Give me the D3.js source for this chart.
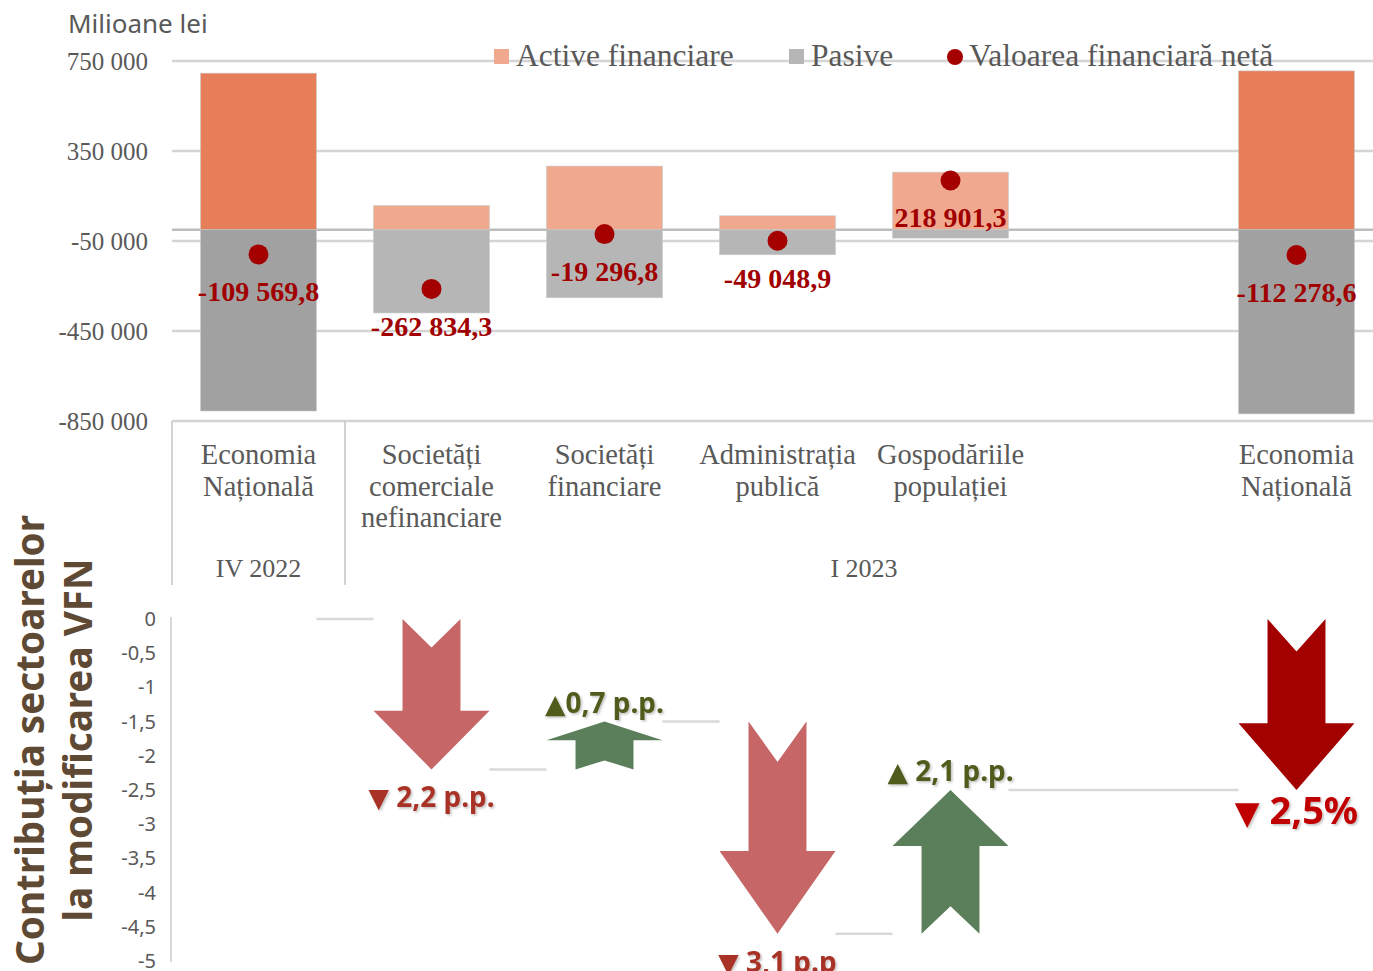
<!DOCTYPE html>
<html>
<head>
<meta charset="utf-8">
<script src="https://cdn.jsdelivr.net/npm/d3@7"></script>
<style>
  body { margin: 0; background: #fff; }
  svg { display: block; }
</style>
</head>
<body>
<div id="chart"></div>
<script>
// Category labels (one array per category, one string per line)
const categories = [
  ["Economia", "Națională"],
  ["Societăți", "comerciale", "nefinanciare"],
  ["Societăți", "financiare"],
  ["Administrația", "publică"],
  ["Gospodăriile", "populației"],
  [],
  ["Economia", "Națională"]
];
const periodLabels = ["IV 2022", "I 2023"];
const periodFirst = [0, 1];
const periodLast = [0, 6];

// Top chart values, milioane lei
const activeValues = [696000, 107000, 283000, 62000, 256000, null, 706000];
const pasiveValues = [-805570, -369834, -302297, -111049, -37099, null, -818279];
const netValues = [-109569.8, -262834.3, -19296.8, -49048.9, 218901.3, null, -112278.6];
const topTicks = [750000, 350000, -50000, -450000, -850000];
const totalCats = [0, 6]; // national economy bars are drawn darker

// Bottom chart: contributions to VFN change, p.p.
const contribValues = [0, -2.2, 0.7, -3.1, 2.1, null, -2.5];
const contribLabels = ["", "▼ 2,2 p.p.", "▲0,7 p.p.", "▼ 3,1 p.p", "▲ 2,1 p.p.", "", "▼ 2,5%"];
const bottomTicks = [0, -0.5, -1, -1.5, -2, -2.5, -3, -3.5, -4, -4.5, -5];
const totalIndex = 6;

const W = 1373, H = 971;
const serif = "'Liberation Serif', 'DejaVu Serif', serif";
const sans = "'Noto Sans', 'Open Sans', sans-serif";

const ro = d3.formatLocale({ decimal: ",", thousands: " ", grouping: [3], currency: ["", " lei"], minus: "-" });
const fmtTick = ro.format(",d");
const fmtNet = ro.format(",.1f");
const fmtSmall = ro.format(",.1~f");

const svg = d3.select("#chart").append("svg")
  .attr("width", W).attr("height", H);

const defs = svg.append("defs");
const shadow = defs.append("filter").attr("id", "shadow")
  .attr("x", "-10%").attr("y", "-20%").attr("width", "130%").attr("height", "150%");
shadow.append("feDropShadow").attr("dx", 1.5).attr("dy", 1.5).attr("stdDeviation", 1.2)
  .attr("flood-color", "#000").attr("flood-opacity", 0.25);

// shared x scale
const x = d3.scaleBand()
  .domain(d3.range(categories.length))
  .range([172, 1383])
  .paddingInner(0.33)
  .paddingOuter(0.165);

// ---------- top chart ----------
const y = d3.scaleLinear().domain([-850000, 750000]).range([421, 61]);

svg.append("text")
  .attr("x", 68).attr("y", 33)
  .attr("font-family", sans).attr("font-size", 26).attr("fill", "#595959")
  .text("Milioane lei");

// gridlines
svg.append("g").selectAll("line").data(topTicks).join("line")
  .attr("x1", 172).attr("x2", W)
  .attr("y1", d => y(d)).attr("y2", d => y(d))
  .attr("stroke", "#d4d4d4").attr("stroke-width", 2.5);

// zero line
svg.append("line")
  .attr("x1", 172).attr("x2", W)
  .attr("y1", y(0)).attr("y2", y(0))
  .attr("stroke", "#bdbdbd").attr("stroke-width", 2.5);

// y axis labels
svg.append("g").selectAll("text").data(topTicks).join("text")
  .attr("x", 148).attr("y", d => y(d)).attr("dy", "0.35em")
  .attr("text-anchor", "end")
  .attr("font-family", serif).attr("font-size", 25).attr("fill", "#595959")
  .text(d => fmtTick(d));

const idx = d3.range(categories.length).filter(i => activeValues[i] !== null);

// bars
const bars = svg.append("g");
bars.selectAll("rect.active").data(idx).join("rect")
  .attr("class", "active")
  .attr("x", i => x(i)).attr("width", x.bandwidth())
  .attr("y", i => y(activeValues[i])).attr("height", i => y(0) - y(activeValues[i]))
  .attr("fill", i => totalCats.includes(i) ? "#e67e5a" : "#f0a98f")
  .attr("stroke", "#c9c9c9").attr("stroke-width", 0.6);
bars.selectAll("rect.pasive").data(idx).join("rect")
  .attr("class", "pasive")
  .attr("x", i => x(i)).attr("width", x.bandwidth())
  .attr("y", y(0)).attr("height", i => y(pasiveValues[i]) - y(0))
  .attr("fill", i => totalCats.includes(i) ? "#a1a1a1" : "#b6b6b6")
  .attr("stroke", "#c9c9c9").attr("stroke-width", 0.6);

// net value dots
svg.append("g").selectAll("circle").data(idx).join("circle")
  .attr("cx", i => x(i) + x.bandwidth() / 2)
  .attr("cy", i => y(netValues[i]))
  .attr("r", 10)
  .attr("fill", "#a50000");

svg.append("g").selectAll("text").data(idx).join("text")
  .attr("x", i => x(i) + x.bandwidth() / 2)
  .attr("y", i => y(netValues[i]) + 47)
  .attr("text-anchor", "middle")
  .attr("font-family", serif).attr("font-weight", "bold").attr("font-size", 28)
  .attr("fill", "#a00000")
  .text(i => fmtNet(netValues[i]));

// legend
const legend = svg.append("g").attr("font-family", serif).attr("font-size", 31.5).attr("fill", "#595959");
legend.append("rect").attr("x", 494).attr("y", 49).attr("width", 15).attr("height", 15).attr("fill", "#f0a98f");
legend.append("text").attr("x", 516).attr("y", 66).text("Active financiare");
legend.append("rect").attr("x", 789).attr("y", 49).attr("width", 15).attr("height", 15).attr("fill", "#b6b6b6");
legend.append("text").attr("x", 811).attr("y", 66).text("Pasive");
legend.append("circle").attr("cx", 955).attr("cy", 57).attr("r", 8).attr("fill", "#a50000");
legend.append("text").attr("x", 969).attr("y", 66).text("Valoarea financiară netă");

// category axis
const catAxis = svg.append("g");
catAxis.selectAll("text").data(d3.range(categories.length)).join("text")
  .attr("x", i => x(i) + x.bandwidth() / 2)
  .attr("text-anchor", "middle")
  .attr("font-family", serif).attr("font-size", 28.5).attr("fill", "#595959")
  .selectAll("tspan").data(i => categories[i].map(l => [i, l])).join("tspan")
  .attr("x", d => x(d[0]) + x.bandwidth() / 2)
  .attr("y", (d, k) => 464 + k * 31.5)
  .text(d => d[1]);

// period separators and labels
const sepX = [x(0) - x.step() * x.paddingOuter(), x(1) - x.step() * x.paddingInner() / 2];
catAxis.selectAll("line").data(sepX).join("line")
  .attr("x1", d => d).attr("x2", d => d)
  .attr("y1", y(-850000)).attr("y2", 585)
  .attr("stroke", "#c4c4c4").attr("stroke-width", 1.5);

catAxis.append("g").selectAll("text").data(periodLabels).join("text")
  .attr("x", (d, k) => (x(periodFirst[k]) + x(periodLast[k]) + x.bandwidth()) / 2)
  .attr("y", 577)
  .attr("text-anchor", "middle")
  .attr("font-family", serif).attr("font-size", 26).attr("fill", "#595959")
  .text(d => d);

// ---------- bottom chart ----------
const y2 = d3.scaleLinear().domain([-5, 0]).range([961, 619]);

svg.append("line")
  .attr("x1", 171).attr("x2", 171).attr("y1", 617).attr("y2", 962)
  .attr("stroke", "#d9d9d9").attr("stroke-width", 2);

svg.append("g").selectAll("text").data(bottomTicks).join("text")
  .attr("x", 156).attr("y", d => y2(d)).attr("dy", "0.35em")
  .attr("text-anchor", "end")
  .attr("font-family", sans).attr("font-size", 20).attr("fill", "#595959")
  .text(d => fmtSmall(d));

// vertical title
const title = svg.append("g").attr("font-family", sans).attr("font-weight", "bold")
  .attr("font-size", 40).attr("fill", "#5e4a34").attr("text-anchor", "middle");
title.append("text").attr("transform", "translate(44,740) rotate(-90)")
  .attr("textLength", 450).attr("lengthAdjust", "spacingAndGlyphs")
  .text("Contribuția sectoarelor");
title.append("text").attr("transform", "translate(92,740) rotate(-90)")
  .attr("textLength", 363).attr("lengthAdjust", "spacingAndGlyphs")
  .text("la modificarea VFN");

// waterfall steps
const steps = [];
let level = 0;
contribValues.forEach((v, i) => {
  if (v === null) return;
  if (i === totalIndex) {
    steps.push({ i, start: 0, end: v, total: true });
  } else {
    steps.push({ i, start: level, end: level + v, total: false });
    level += v;
  }
});

function arrowPath(s) {
  const cx = x(s.i) + x.bandwidth() / 2;
  const w = x.bandwidth();
  const y0 = y2(s.start), y1 = y2(s.end);
  const len = Math.abs(y1 - y0);
  const dir = y1 > y0 ? 1 : -1;
  const head = 0.39 * len, notch = 0.19 * len;
  const hb = y1 - dir * head;
  return d3.line()([
    [cx - w / 4, y0], [cx, y0 + dir * notch], [cx + w / 4, y0],
    [cx + w / 4, hb], [cx + w / 2, hb], [cx, y1],
    [cx - w / 2, hb], [cx - w / 4, hb]
  ]) + "Z";
}

// connector lines between steps
const conn = [];
for (let k = 0; k < steps.length - 1; k++) {
  conn.push({ x1: x(steps[k].i) + x.bandwidth(), x2: x(steps[k + 1].i), v: steps[k].end });
}
svg.append("g").selectAll("line").data(conn).join("line")
  .attr("x1", d => d.x1).attr("x2", d => d.x2)
  .attr("y1", d => y2(d.v)).attr("y2", d => y2(d.v))
  .attr("stroke", "#d9d9d9").attr("stroke-width", 2.5);

const arrows = steps.filter(s => s.start !== s.end);
svg.append("g").selectAll("path").data(arrows).join("path")
  .attr("d", arrowPath)
  .attr("fill", s => s.total ? "#a30000" : (s.end < s.start ? "#c66666" : "#5b7f5b"));

// arrow labels
const lab = svg.append("g").attr("font-family", sans).attr("font-weight", "bold")
  .attr("text-anchor", "middle").attr("filter", "url(#shadow)");
arrows.forEach(s => {
  const down = s.end < s.start;
  const txt = contribLabels[s.i];
  const color = s.total ? "#c00000" : (down ? "#a93226" : "#4f5c1f");
  const size = s.total ? 38 : 28;
  const t = lab.append("text")
    .attr("x", x(s.i) + x.bandwidth() / 2)
    .attr("y", y2(s.end) + (down ? (s.total ? 34 : 38) : -9))
    .attr("font-size", size).attr("fill", color);
  t.append("tspan").attr("font-family", "'DejaVu Sans', sans-serif").attr("font-weight", "normal")
    .attr("font-size", size * (s.total ? 0.85 : 0.95)).text(txt.charAt(0));
  t.append("tspan").text(txt.slice(1));
});
</script>
</body>
</html>
